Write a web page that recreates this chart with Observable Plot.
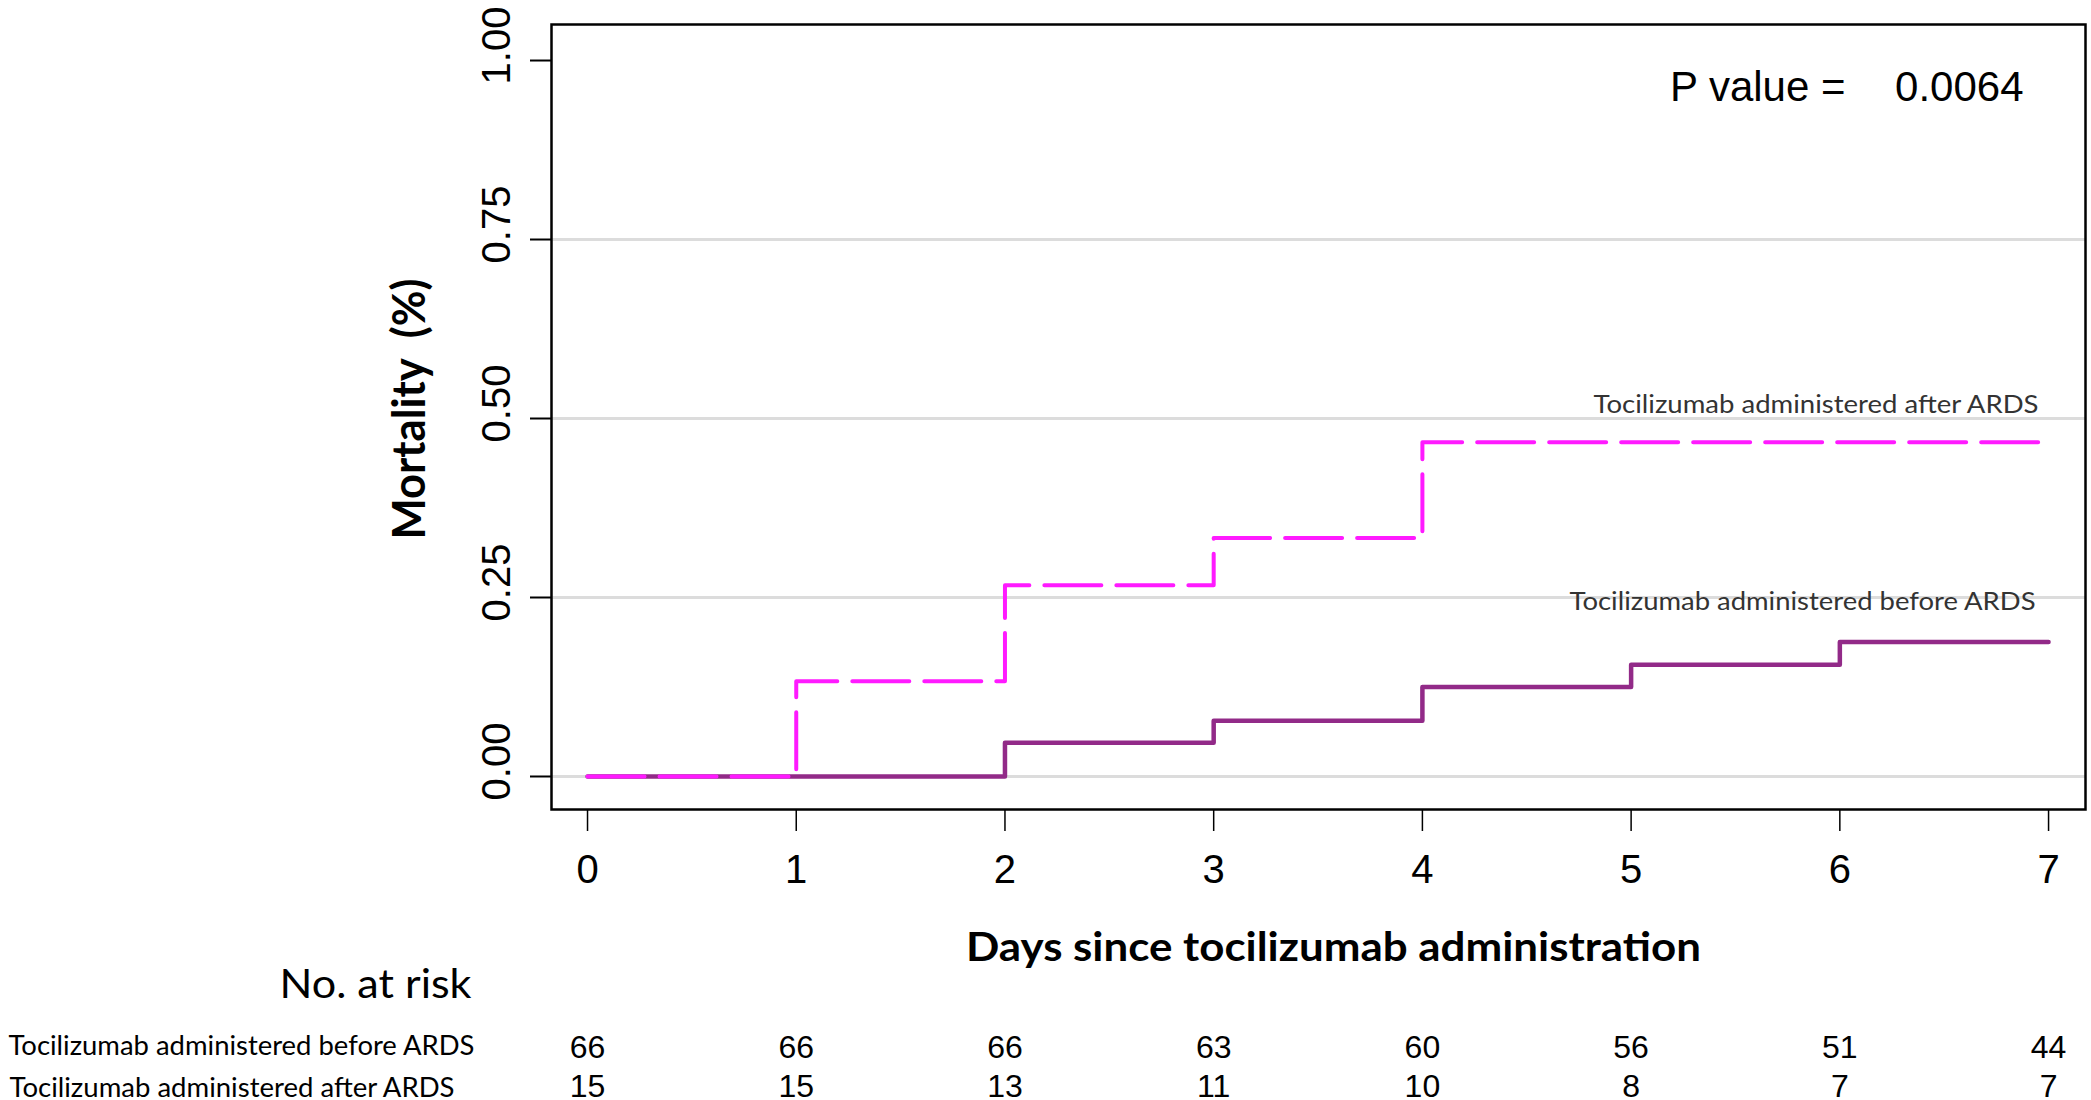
<!DOCTYPE html>
<html>
<head>
<meta charset="utf-8">
<script src="https://cdn.jsdelivr.net/npm/d3@7"></script>
<script src="https://cdn.jsdelivr.net/npm/@observablehq/plot@0.6"></script>
<style>
  html, body { margin: 0; padding: 0; background: #ffffff; }
  #chart svg { display: block; }
</style>
</head>
<body>
<div id="chart"></div>
<script>
// ---- data ----
const days = [0, 1, 2, 3, 4, 5, 6, 7];
const mortalityAfter  = [0, 0.133, 0.267, 0.333, 0.467, 0.467, 0.467, 0.467];
const mortalityBefore = [0, 0, 0.047, 0.078, 0.125, 0.156, 0.188, 0.188];
const riskBefore = [66, 66, 66, 63, 60, 56, 51, 44];
const riskAfter  = [15, 15, 13, 11, 10, 8, 7, 7];
const groupBefore = "Tocilizumab administered before ARDS";
const groupAfter  = "Tocilizumab administered after ARDS";
const yTicks = [0, 0.25, 0.5, 0.75, 1];
const gridTicks = [0, 0.25, 0.5, 0.75];
const xLabel = "Days since tocilizumab administration";
const yLabel = "Mortality  (%)";
const riskTitle = "No. at risk";
const pLabel = "P value =";
const pValue = "0.0064";

// ---- tables built from arrays ----
const before = days.map((d, i) => ({day: d, mortality: mortalityBefore[i], risk: riskBefore[i]}));
const after  = days.map((d, i) => ({day: d, mortality: mortalityAfter[i], risk: riskAfter[i]}));
const last = days.length - 1;

const SANS = "Liberation Sans, Arial, sans-serif";
const HUM = "Lato, 'Open Sans', sans-serif";
const colBefore = "#922a88";
const colAfter = "#ff1aff";

const chart = Plot.plot({
  width: 2091,
  height: 1100,
  marginLeft: 551,
  marginRight: 6,
  marginTop: 24,
  marginBottom: 291,
  style: {background: "#ffffff", overflow: "visible"},
  x: {domain: [-0.1726, 7.177]},
  y: {domain: [-0.0461, 1.0503]},
  marks: [
    Plot.ruleY(gridTicks, {stroke: "#dcdcdc", strokeWidth: 3}),
    Plot.line(before, {x: "day", y: "mortality", curve: "step-after", stroke: colBefore, strokeWidth: 4.5}),
    Plot.line(after, {x: "day", y: "mortality", curve: "step-after", stroke: colAfter, strokeWidth: 4, strokeDasharray: "57,15"}),
    Plot.frame({stroke: "#000", strokeWidth: 2.5}),
    // y ticks (marks only)
    Plot.axisY(yTicks, {tickSize: 21, fill: "none", strokeWidth: 2, label: null}),
    // y tick labels (rotated, shifted up as in R output)
    Plot.axisY(yTicks, {tickSize: 0, tickFormat: d3.format(".2f"), tickRotate: -90, tickPadding: 42, dy: -15,
      fontSize: 40, fontFamily: SANS, label: null, fill: "#000"}),
    Plot.axisX(days, {tickSize: 22, tickPadding: 23, tickFormat: d3.format("d"), fontSize: 40, fontFamily: SANS,
      strokeWidth: 1.5, label: null, fill: "#000"}),
    // y label
    Plot.text([yLabel], {text: d => d, frameAnchor: "left", rotate: -90, textAnchor: "middle",
      lineAnchor: "bottom", dx: -127, dy: -8, fontSize: 45, fontWeight: "bold", fontFamily: HUM, fill: "#000"}),
    // x label
    Plot.text([xLabel], {text: d => d, frameAnchor: "bottom", textAnchor: "middle",
      lineAnchor: "bottom", dx: 15, dy: 151, fontSize: 41, fontWeight: "bold", fontFamily: HUM, fill: "#000"}),
    // p value
    Plot.text([pLabel], {text: d => d, frameAnchor: "top-right", textAnchor: "end", lineAnchor: "bottom",
      dx: -240, dy: 76, fontSize: 42, fontFamily: SANS, fill: "#000"}),
    Plot.text([pValue], {text: d => d, frameAnchor: "top-right", textAnchor: "end", lineAnchor: "bottom",
      dx: -62, dy: 76, fontSize: 42, fontFamily: SANS, fill: "#000"}),
    // curve labels
    Plot.text([after[last]], {x: "day", y: "mortality", text: () => groupAfter, textAnchor: "end",
      lineAnchor: "bottom", dx: -10, dy: -29, fontSize: 25, fontFamily: HUM, fill: "#333"}),
    Plot.text([before[last]], {x: "day", y: "mortality", text: () => groupBefore, textAnchor: "end",
      lineAnchor: "bottom", dx: -13, dy: -32, fontSize: 25, fontFamily: HUM, fill: "#333"}),
    // risk table
    Plot.text([riskTitle], {text: d => d, frameAnchor: "bottom-left", textAnchor: "end", lineAnchor: "bottom",
      dx: -80, dy: 188, fontSize: 41, fontFamily: HUM, fill: "#000"}),
    Plot.text([groupBefore], {text: d => d, frameAnchor: "bottom-left", textAnchor: "start", lineAnchor: "bottom",
      dx: -543, dy: 245, fontSize: 27, fontFamily: HUM, fill: "#000"}),
    Plot.text([groupAfter], {text: d => d, frameAnchor: "bottom-left", textAnchor: "start", lineAnchor: "bottom",
      dx: -542, dy: 287, fontSize: 27, fontFamily: HUM, fill: "#000"}),
    Plot.text(before, {x: "day", text: "risk", frameAnchor: "bottom", textAnchor: "middle", lineAnchor: "bottom",
      dy: 248, fontSize: 32, fontFamily: SANS, fill: "#000"}),
    Plot.text(after, {x: "day", text: "risk", frameAnchor: "bottom", textAnchor: "middle", lineAnchor: "bottom",
      dy: 287, fontSize: 32, fontFamily: SANS, fill: "#000"})
  ]
});

// condensed (Calibri-like) text widths from the reference
const lengths = new Map([
  [yLabel, 261], [xLabel, 735], [riskTitle, 192], [groupBefore, 466], [groupAfter, 445]
]);
chart.querySelectorAll("text").forEach(t => {
  const L = lengths.get(t.textContent);
  if (L) { t.setAttribute("textLength", L); t.setAttribute("lengthAdjust", "spacingAndGlyphs"); }
});

document.getElementById("chart").appendChild(chart);
</script>
</body>
</html>
